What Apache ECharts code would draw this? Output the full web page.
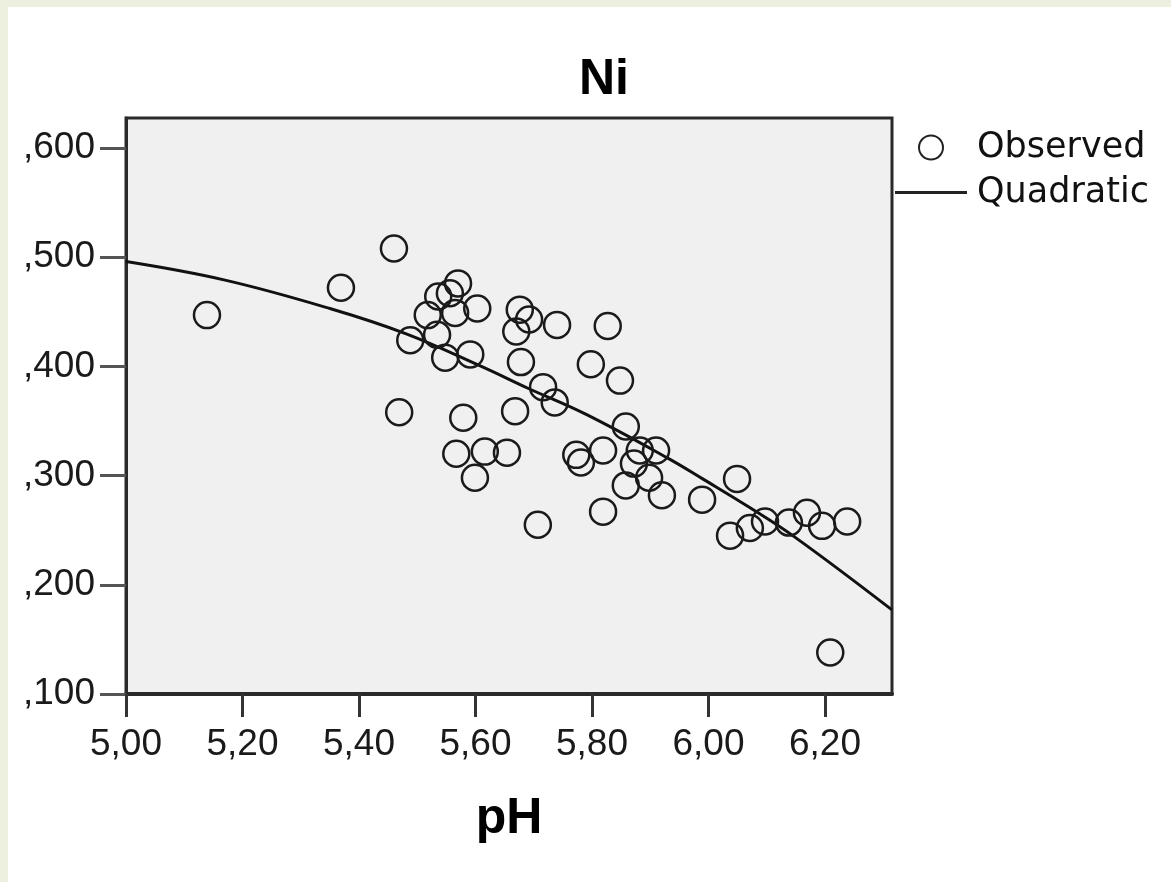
<!DOCTYPE html>
<html>
<head>
<meta charset="utf-8">
<script src="https://cdn.jsdelivr.net/npm/echarts@6/dist/echarts.min.js"></script>
<style>
html,body{margin:0;padding:0;background:#fff;}
#c{width:1171px;height:882px;}
</style>
</head>
<body>
<div id="c"></div>
<script>
// Observed points: [pH, Ni]
const observedPH = [5.139,5.369,5.460,5.488,5.469,5.570,5.536,5.556,5.603,5.518,5.565,5.534,5.548,5.591,5.676,5.692,5.670,5.740,5.827,5.678,5.798,5.848,5.716,5.736,5.668,5.579,5.567,5.616,5.654,5.599,5.773,5.781,5.819,5.819,5.707,5.858,5.882,5.910,5.872,5.858,5.898,5.920,5.989,6.049,6.037,6.071,6.097,6.138,6.169,6.195,6.238,6.209];
const observedNi = [0.447,0.472,0.508,0.424,0.358,0.476,0.464,0.467,0.453,0.447,0.449,0.429,0.408,0.411,0.452,0.443,0.432,0.438,0.437,0.404,0.402,0.387,0.381,0.367,0.359,0.353,0.320,0.322,0.321,0.298,0.319,0.312,0.323,0.267,0.255,0.345,0.323,0.323,0.311,0.291,0.298,0.282,0.278,0.297,0.245,0.252,0.258,0.257,0.266,0.254,0.258,0.138];
// Quadratic fit curve
const curvePH = [5.00,5.17,5.35,5.48,5.61,5.69,5.79,5.93,5.99,6.07,6.15,6.315];
const curveNi = [0.496,0.479,0.453,0.430,0.400,0.380,0.356,0.316,0.297,0.271,0.243,0.177];
// Axis ticks
const xTicks = [5.0,5.2,5.4,5.6,5.8,6.0,6.2];
const xTickLabels = ['5,00','5,20','5,40','5,60','5,80','6,00','6,20'];
const yTicks = [0.1,0.2,0.3,0.4,0.5,0.6];
const yTickLabels = [',100',',200',',300',',400',',500',',600'];

function labelFor(ticks, labels, v){
  for (let i=0;i<ticks.length;i++){ if (Math.abs(ticks[i]-v)<1e-6) return labels[i]; }
  return '';
}

const chart = echarts.init(document.getElementById('c'), null, {renderer:'canvas'});
const tickFont = 'Liberation Sans';
chart.setOption({
  backgroundColor:'#ffffff',
  animation:false,
  graphic:[
    {type:'rect', shape:{x:0,y:0,width:8,height:882}, style:{fill:'#edf0df'}, silent:true},
    {type:'rect', shape:{x:0,y:0,width:1171,height:7}, style:{fill:'#edf0df'}, silent:true}
  ],
  title:{
    text:'Ni', left:599, top:50, textAlign:'center',
    textStyle:{fontFamily:'Liberation Sans', fontWeight:'bold', fontSize:50, color:'#000'}
  },
  legend:{
    orient:'vertical', left:890, top:125, itemWidth:72, itemHeight:24, itemGap:10,
    textStyle:{fontFamily:'DejaVu Sans', fontSize:35, color:'#111', padding:[0,0,0,5]},
    data:[
      {name:'Observed', icon:'circle', itemStyle:{color:'rgba(0,0,0,0)', borderColor:'#222', borderWidth:2}},
      {name:'Quadratic', icon:'path://M0,0H72V3H0Z', itemStyle:{color:'#222', borderWidth:0}}
    ]
  },
  grid:{left:126, right:279, top:118, bottom:188, show:true, backgroundColor:'#f0f0f0', borderColor:'#2a2a2a', borderWidth:3},
  xAxis:{
    type:'value', min:5.0, max:6.315,
    name:'pH', nameLocation:'middle', nameGap:100,
    nameTextStyle:{fontFamily:'Liberation Sans', fontWeight:'bold', fontSize:50, color:'#000'},
    axisLine:{show:true, lineStyle:{color:'#2a2a2a', width:4}},
    axisTick:{show:true, customValues:xTicks, length:23, lineStyle:{color:'#333', width:3}},
    axisLabel:{customValues:xTicks, margin:32, fontFamily:tickFont, fontSize:37, color:'#1a1a1a',
      formatter:(v)=>labelFor(xTicks,xTickLabels,v)},
    splitLine:{show:false}
  },
  yAxis:{
    type:'value', min:0.1, max:0.6275,
    axisLine:{show:true, lineStyle:{color:'#2a2a2a', width:3}},
    axisTick:{show:true, customValues:yTicks, length:26, lineStyle:{color:'#555', width:3}},
    axisLabel:{customValues:yTicks, margin:31, fontFamily:tickFont, fontSize:37, color:'#1a1a1a',
      formatter:(v)=>labelFor(yTicks,yTickLabels,v)},
    splitLine:{show:false}
  },
  series:[
    {
      name:'Observed', type:'scatter', symbol:'circle', symbolSize:26,
      itemStyle:{color:'rgba(0,0,0,0)', borderColor:'#1a1a1a', borderWidth:2.5, opacity:1},
      data: observedPH.map((x,i)=>[x, observedNi[i]]),
      z:3
    },
    {
      name:'Quadratic', type:'line', symbol:'none', smooth:0.4,
      lineStyle:{color:'#111', width:3},
      data: curvePH.map((x,i)=>[x, curveNi[i]]),
      z:2
    }
  ]
});
</script>
</body>
</html>
